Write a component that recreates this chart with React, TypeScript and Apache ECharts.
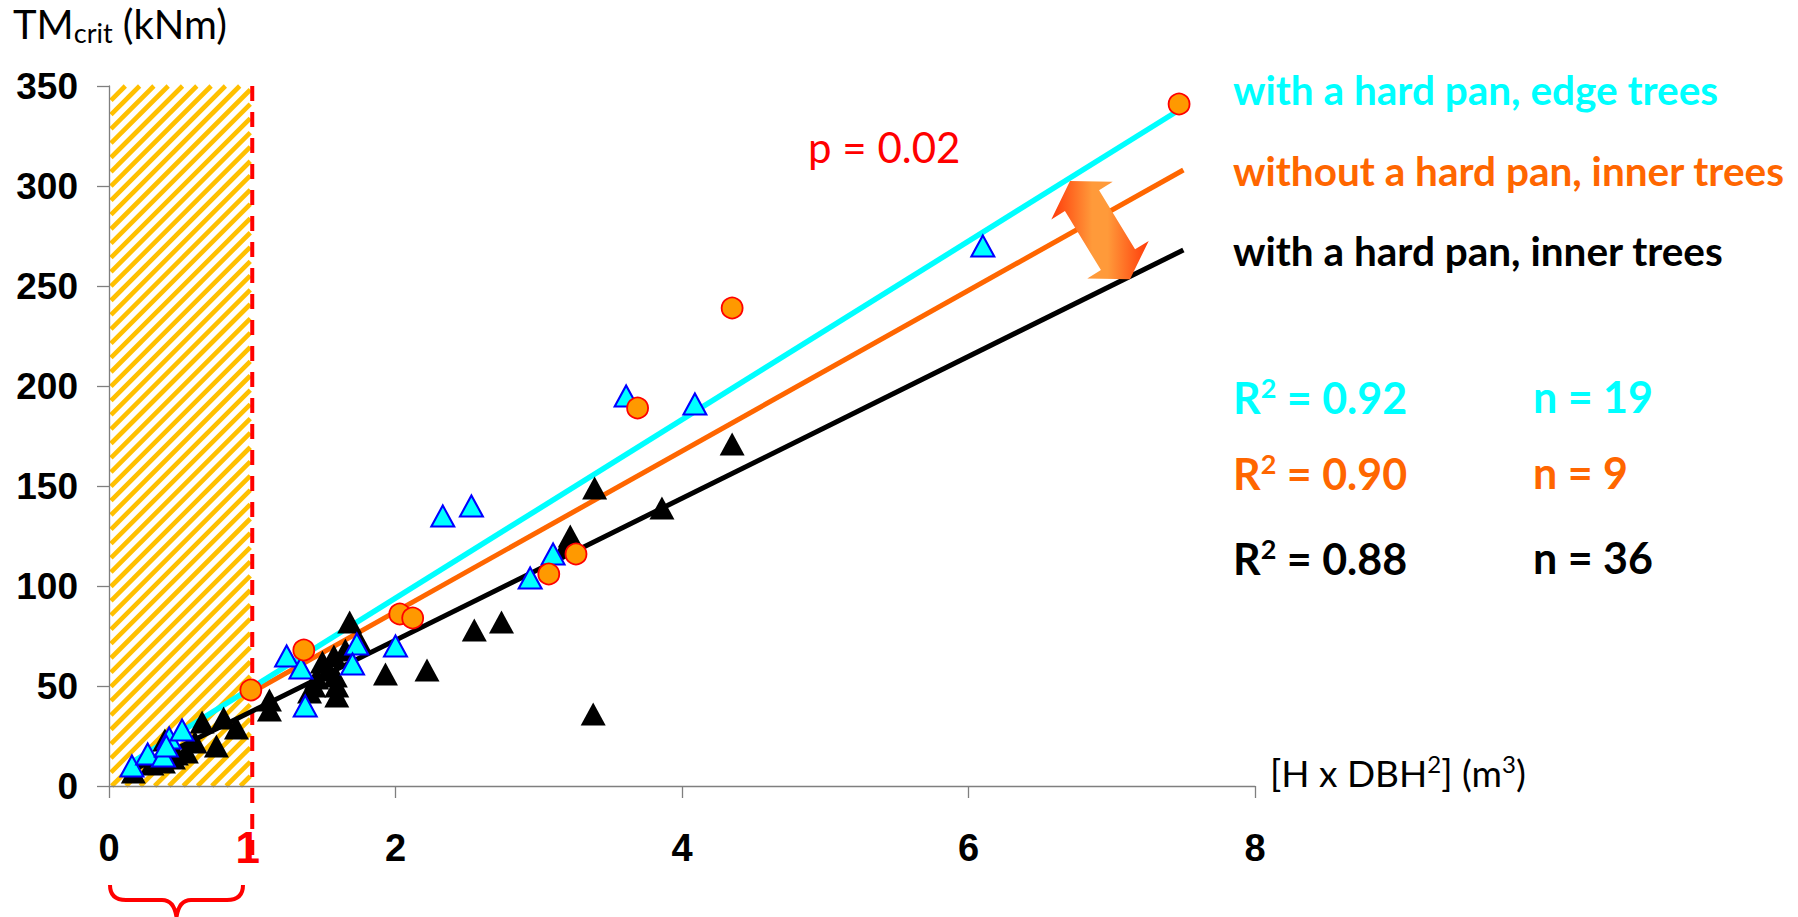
import React, { useEffect, useRef } from "react";
import * as echarts from "echarts";

// ---------- axes ----------
const X_MIN = 0;
const X_MAX = 8;
const X_STEP = 2;
const Y_MIN = 0;
const Y_MAX = 350;
const Y_STEP = 50;

// ---------- data: [H x DBH^2 (m3), TMcrit (kNm)] ----------
const hardPanEdgeTrees: number[][] = [
  [6.1, 270], [4.09, 191], [3.61, 195], [2.53, 140], [2.33, 135], [3.1, 116],
  [2.94, 104], [2.0, 70], [1.73, 71], [1.7, 61], [1.24, 65], [1.34, 59],
  [1.37, 40], [0.16, 10], [0.27, 16], [0.38, 15], [0.42, 24], [0.51, 28], [0.4, 20],
];

const noHardPanInnerTrees: number[][] = [
  [7.47, 341], [4.35, 239], [3.69, 189], [2.03, 86], [2.12, 84],
  [1.36, 68], [3.07, 106], [3.26, 116], [0.99, 48],
];

const hardPanInnerTrees: number[][] = [
  [4.35, 171], [3.86, 139], [3.39, 149], [3.22, 125], [3.19, 120], [3.38, 36],
  [2.74, 82], [2.55, 78], [2.22, 58], [1.93, 56], [1.68, 82], [1.75, 72],
  [1.57, 65], [1.49, 62], [1.58, 55], [1.59, 50], [1.59, 45], [1.43, 50],
  [1.45, 54], [1.12, 43], [1.12, 38], [0.89, 29], [0.8, 34], [0.65, 32],
  [0.75, 20], [0.54, 17], [0.47, 16], [0.38, 12], [0.39, 23], [0.17, 7],
  [1.4, 47], [0.45, 14], [0.6, 22], [0.3, 11], [1.53, 58], [1.65, 68],
];

// regression line end points
const edgeFit: number[][] = [[0.16, 11.8], [7.47, 338]];
const noPanFit: number[][] = [[0.99, 46.6], [7.5, 308]];
const innerFit: number[][] = [[0.17, 8], [7.5, 268]];

// shaded zone (0..1 m3) up to top of axis
const zone: number[][] = [[1, 350]];
const zoneLabel = "1";

// ---------- annotation texts ----------
const legendLabels = [
  "with a hard pan, edge trees",
  "without a hard pan, inner trees",
  "with a hard pan, inner trees",
];
const r2Values = ["0.92", "0.90", "0.88"];
const nValues = ["19", "9", "36"];
const pText = "p = 0.02";

const CYAN = "#00FFFF";
const ORANGE = "#FF6600";
const BLACK = "#000000";
const groupColors = [CYAN, ORANGE, BLACK];

const TXT = "Lato, 'Open Sans', sans-serif";
const NUM = "'Liberation Sans', Arial, sans-serif";

const bracePath =
  "M110 885 Q110 900 126 900 L162 900 Q174 900 176.5 917 M243 885 Q243 900 227 900 L191 900 Q179 900 176.5 917";

let braceRegistered = false;

export default function App() {
  const ref = useRef<HTMLDivElement>(null);

  useEffect(() => {
    document.body.style.margin = "0";
    if (!braceRegistered) {
      echarts.graphic.registerShape("brace", echarts.graphic.extendPath(bracePath, {}) as any);
      braceRegistered = true;
    }
    const chart = echarts.init(ref.current!, undefined, { renderer: "svg" });

    // arrow polygon (annotation)
    const ax = 0.522, ay = 0.853; // axis direction
    const nx = 0.853, ny = -0.522; // perpendicular
    const A = [1070, 181];
    const C = [1130, 279.3];
    const B1 = [A[0] + 23 * ax, A[1] + 23 * ay];
    const B2 = [C[0] - 23 * ax, C[1] - 23 * ay];
    const off = (p: number[], k: number) => [p[0] + k * nx, p[1] + k * ny];
    const arrowPts = [A, off(B1, 36), off(B1, 20), off(B2, 20), off(B2, 36), C, off(B2, -36), off(B2, -20), off(B1, -20), off(B1, -36)];

    const graphics: any[] = [];
    legendLabels.forEach((t, i) => {
      graphics.push({
        type: "text",
        x: 1233,
        y: [89, 170, 250][i],
        style: {
          text: t,
          fill: groupColors[i],
          font: `bold 40.5px ${TXT}`,
          verticalAlign: "middle",
        },
      });
    });
    r2Values.forEach((v, i) => {
      const y = [396, 472, 557][i];
      graphics.push({
        type: "text",
        x: 1233,
        y,
        style: {
          text: `{a|R}{s|2}{a| = ${v}}`,
          verticalAlign: "middle",
          rich: {
            a: { fill: groupColors[i], fontFamily: TXT, fontWeight: "bold", fontSize: 43, lineHeight: 45, verticalAlign: "bottom" },
            s: { fill: groupColors[i], fontFamily: TXT, fontWeight: "bold", fontSize: 27, lineHeight: 27, verticalAlign: "top" },
          },
        },
      });
      graphics.push({
        type: "text",
        x: 1533,
        y,
        style: {
          text: `n = ${nValues[i]}`,
          fill: groupColors[i],
          font: `bold 43px ${TXT}`,
          verticalAlign: "middle",
        },
      });
    });
    graphics.push({
      type: "text",
      x: 808,
      y: 147,
      style: { text: pText, fill: "#FF0000", font: `42px ${TXT}`, verticalAlign: "middle" },
    });
    graphics.push({
      type: "text",
      x: 13,
      y: 25,
      style: {
        text: "{a|TM}{b|crit}{a| (kNm)}",
        verticalAlign: "middle",
        rich: {
          a: { fill: "#000", fontFamily: TXT, fontSize: 40, lineHeight: 42, verticalAlign: "top" },
          b: { fill: "#000", fontFamily: TXT, fontSize: 27, lineHeight: 27, verticalAlign: "bottom" },
        },
      },
    });
    graphics.push({
      type: "text",
      x: 1270,
      y: 771,
      style: {
        text: "{a|[H x DBH}{s|2}{a|] (m}{s|3}{a|)}",
        verticalAlign: "middle",
        rich: {
          a: { fill: "#000", fontFamily: TXT, fontSize: 37, lineHeight: 39, verticalAlign: "bottom" },
          s: { fill: "#000", fontFamily: TXT, fontSize: 24, lineHeight: 24, verticalAlign: "top" },
        },
      },
    });
    graphics.push({
      type: "polygon",
      shape: { points: arrowPts },
      style: {
        fill: new echarts.graphic.LinearGradient(0, 0, 1, 0, [
          { offset: 0, color: "#FF3A0A" },
          { offset: 0.42, color: "#FF9A3A" },
          { offset: 0.58, color: "#FF9A3A" },
          { offset: 1, color: "#FF3A0A" },
        ]),
      },
      z: 100,
    });
    graphics.push({
      type: "brace",
      x: 0,
      y: 0,
      style: { stroke: "#FF0000", lineWidth: 4, fill: "none" },
      z: 100,
    });

    const axisGray = "#7F7F7F";

    chart.setOption({
      animation: false,
      backgroundColor: "#FFFFFF",
      grid: { left: 109, right: 1798 - 1255, top: 86, bottom: 917 - 786, containLabel: false },
      xAxis: {
        type: "value",
        min: X_MIN,
        max: X_MAX,
        interval: X_STEP,
        axisLine: { show: true, onZero: false, lineStyle: { color: axisGray, width: 1.3 } },
        axisTick: { show: true, length: 12, inside: false, lineStyle: { color: axisGray, width: 1.3 } },
        splitLine: { show: false },
        axisLabel: { fontSize: 38, fontWeight: "bold", color: "#000", fontFamily: NUM, margin: 43 },
      },
      yAxis: {
        type: "value",
        min: Y_MIN,
        max: Y_MAX,
        interval: Y_STEP,
        axisLine: { show: true, onZero: false, lineStyle: { color: axisGray, width: 1.3 } },
        axisTick: { show: true, length: 12, inside: false, lineStyle: { color: axisGray, width: 1.3 } },
        splitLine: { show: false },
        axisLabel: { fontSize: 37, fontWeight: "bold", color: "#000", fontFamily: NUM, margin: 31 },
      },
      graphic: graphics,
      series: [
        {
          type: "custom",
          name: "zone",
          clip: false,
          z: 0,
          data: zone,
          renderItem: (params: any, api: any) => {
            const xr = api.value(0);
            const yt = api.value(1);
            const p0 = api.coord([X_MIN, Y_MIN]);
            const p1 = api.coord([xr, yt]);
            const xL = p0[0], yB = p0[1], xR = p1[0], yT = p1[1];
            const children: any[] = [];
            const step = 14.3;
            for (let c = xL + yT + 2; c <= xR + yB + 20; c += step) {
              const xs = Math.max(xL + 2, c - yB);
              const xe = Math.min(xR - 2, c - yT);
              if (xe - xs > 1) {
                children.push({
                  type: "line",
                  shape: { x1: xs, y1: c - xs, x2: xe, y2: c - xe },
                  style: { stroke: "#FFC000", lineWidth: 4.6 },
                });
              }
            }
            children.push({
              type: "line",
              shape: { x1: xR, y1: yT, x2: xR, y2: yB + 77 },
              style: { stroke: "#FF0000", lineWidth: 4, lineDash: [15, 11] },
            });
            children.push({
              type: "text",
              style: {
                text: zoneLabel,
                x: xR - 4.5,
                y: yB + 61.5,
                fill: "#FF0000",
                fontSize: 44,
                fontWeight: "bold",
                fontFamily: NUM,
                align: "center",
                verticalAlign: "middle",
              },
            });
            return { type: "group", children };
          },
        },
        {
          type: "line",
          name: "fit hard pan inner",
          data: innerFit,
          showSymbol: false,
          z: 2,
          lineStyle: { color: BLACK, width: 5 },
        },
        {
          type: "line",
          name: "fit no hard pan inner",
          data: noPanFit,
          showSymbol: false,
          z: 2,
          lineStyle: { color: ORANGE, width: 5 },
        },
        {
          type: "line",
          name: "fit hard pan edge",
          data: edgeFit,
          showSymbol: false,
          z: 2,
          lineStyle: { color: CYAN, width: 5.5 },
        },
        {
          type: "scatter",
          name: legendLabels[2],
          data: hardPanInnerTrees,
          symbol: "triangle",
          symbolSize: [25, 23],
          z: 3,
          itemStyle: { color: BLACK, opacity: 1 },
        },
        {
          type: "scatter",
          name: legendLabels[0],
          data: hardPanEdgeTrees,
          symbol: "triangle",
          symbolSize: [23, 21],
          z: 4,
          itemStyle: { color: CYAN, borderColor: "#0000FF", borderWidth: 2, opacity: 1 },
        },
        {
          type: "scatter",
          name: legendLabels[1],
          data: noHardPanInnerTrees,
          symbol: "circle",
          symbolSize: 21,
          z: 5,
          itemStyle: { color: "#FF9900", borderColor: "#FF0000", borderWidth: 1.8, opacity: 1 },
        },
      ],
    });

    return () => chart.dispose();
  }, []);

  return <div ref={ref} style={{ width: 1798, height: 917 }} />;
}
